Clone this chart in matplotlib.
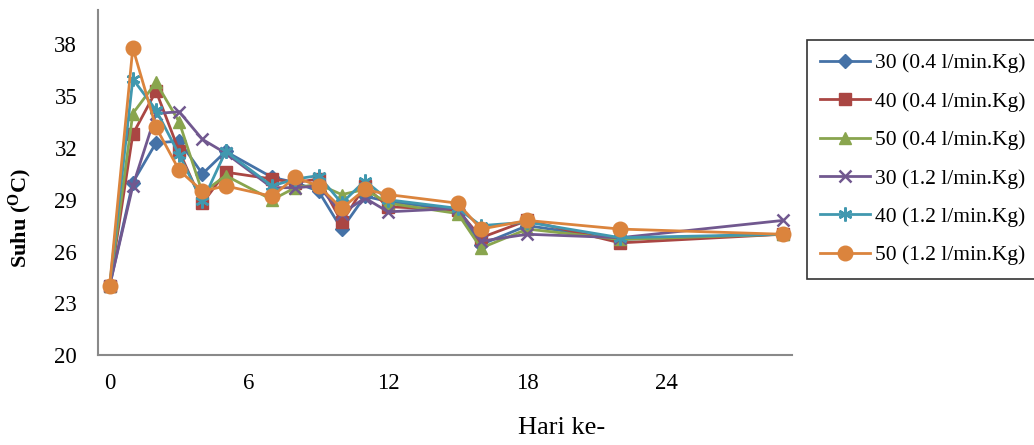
import matplotlib
matplotlib.use("Agg")
import matplotlib.pyplot as plt

days = [0, 1, 2, 3, 4, 5, 7, 8, 9, 10, 11, 12, 15, 16, 18, 22, 29]

s30_04 = [24.0, 30.0, 32.3, 32.4, 30.5, 31.8, 30.3, 30.0, 29.5, 27.3, 29.2, 28.9, 28.4, 26.4, 27.5, 26.7, 27.0]
s40_04 = [24.0, 32.8, 35.3, 31.8, 28.8, 30.6, 30.2, 30.0, 30.2, 27.7, 29.8, 28.6, 28.4, 26.8, 27.8, 26.5, 27.0]
s50_04 = [24.0, 34.0, 35.8, 33.5, 29.4, 30.4, 29.0, 29.7, 29.9, 29.3, 29.6, 28.8, 28.2, 26.2, 27.3, 26.7, 27.0]
s30_12 = [24.0, 29.8, 34.0, 34.1, 32.5, 31.7, 29.7, 29.7, 29.8, 28.2, 29.1, 28.3, 28.5, 26.6, 27.0, 26.8, 27.8]
s40_12 = [24.0, 36.0, 34.2, 31.6, 28.9, 31.8, 29.8, 30.2, 30.4, 28.8, 30.1, 29.0, 28.5, 27.5, 27.7, 26.8, 27.0]
s50_12 = [24.0, 37.8, 33.2, 30.7, 29.5, 29.8, 29.2, 30.3, 29.8, 28.5, 29.6, 29.3, 28.8, 27.3, 27.8, 27.3, 27.0]

labels = ["30 (0.4 l/min.Kg)", "40 (0.4 l/min.Kg)", "50 (0.4 l/min.Kg)",
          "30 (1.2 l/min.Kg)", "40 (1.2 l/min.Kg)", "50 (1.2 l/min.Kg)"]
series = [s30_04, s40_04, s50_04, s30_12, s40_12, s50_12]
colors = ["#4572A7", "#AA4643", "#89A54E", "#71588F", "#4198AF", "#DB843D"]
markers = ["D", "s", "^", "x", (6, 2, 0), "o"]
msizes = [7, 8.5, 9, 9, 10, 10.5]
mews = [1.0, 1.0, 1.0, 1.8, 1.8, 1.0]

yticks = [20, 23, 26, 29, 32, 35, 38]
xticks = [0, 6, 12, 18, 24]

plt.rcParams['font.family'] = ['Liberation Serif', 'DejaVu Serif']

fig = plt.figure(figsize=(10.34, 4.45), dpi=100)
ax = fig.add_axes([98/1034, 90/445, (792-98)/1034, (355-10)/445])

for y, lab, c, m, ms, mew in zip(series, labels, colors, markers, msizes, mews):
    ax.plot(days, y, color=c, marker=m, markersize=ms, linewidth=2.0, label=lab,
            markeredgecolor=c, markerfacecolor=c, markeredgewidth=mew)

ax.set_xlim(-0.5, 29.4)
ax.set_ylim(20, 40)
ax.set_yticks(yticks)
ax.set_xticks(xticks)
ax.tick_params(length=0, labelsize=16.5)
ax.tick_params(axis='y', pad=15)
ax.tick_params(axis='x', pad=13)
for sp in ["top", "right"]:
    ax.spines[sp].set_visible(False)
for sp in ["left", "bottom"]:
    ax.spines[sp].set_color("#898989")
    ax.spines[sp].set_linewidth(1.5)

fig.text(20/1034, 1 - 218/445, r"Suhu ($\mathregular{^O}$C)", rotation=90,
         fontsize=16, fontweight="bold", ha="center", va="center")
fig.text(562/1034, 1 - 428/445, "Hari ke-", fontsize=19, ha="center", va="center")

leg = fig.legend(loc="upper left", bbox_to_anchor=(807/1034, 1 - 40/445),
                 frameon=True, fancybox=False, fontsize=15.5, labelspacing=0.85,
                 handlelength=2.3, borderpad=0.62, handletextpad=0.25, borderaxespad=0)
leg.get_frame().set_edgecolor("black")
leg.get_frame().set_linewidth(1.2)

fig.savefig("out.png", dpi=100)
